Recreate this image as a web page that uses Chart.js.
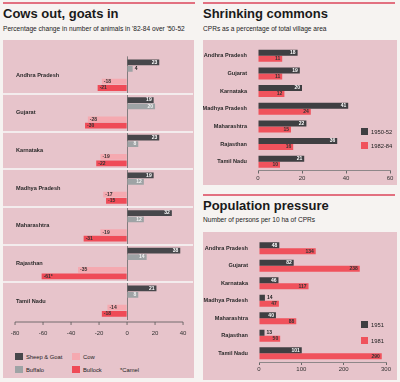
<!DOCTYPE html>
<html><head><meta charset="utf-8">
<script src="https://cdn.jsdelivr.net/npm/chart.js@4"></script>
<style>
html,body{margin:0;padding:0;background:#f6f3f1;width:400px;height:382px;overflow:hidden;font-family:"Liberation Sans",Arial,sans-serif;}
.rule{position:absolute;height:2px;background:#e27080;}
.title{position:absolute;font-weight:bold;font-size:13px;line-height:13px;color:#1a1a1a;white-space:nowrap;}
.sub{position:absolute;font-size:6.6px;line-height:7px;color:#222;white-space:nowrap;}
.box{position:absolute;background:#e7c4cb;}
canvas{position:absolute;}
.lg{position:absolute;font-size:5.8px;line-height:8px;color:#222;white-space:nowrap;}
.sw{position:absolute;width:8px;height:7px;}
</style></head><body>
<div class="rule" style="left:3px;top:2px;width:192px"></div>
<div class="rule" style="left:203px;top:2px;width:192px"></div>
<div class="rule" style="left:203px;top:194px;width:192px"></div>

<div class="title" style="left:3px;top:7px">Cows out, goats in</div>
<div class="sub" style="left:3px;top:24.5px">Percentage change in number of animals in '82-84 over '50-52</div>
<div class="title" style="left:203px;top:7px">Shrinking commons</div>
<div class="sub" style="left:203px;top:24.5px">CPRs as a percentage of total village area</div>
<div class="title" style="left:203px;top:199px">Population pressure</div>
<div class="sub" style="left:203px;top:215.5px">Number of persons per 10 ha of CPRs</div>

<div class="box" style="left:3px;top:40px;width:191px;height:338px"></div>
<div class="box" style="left:203px;top:40px;width:194px;height:145px"></div>
<div class="box" style="left:203px;top:232px;width:194px;height:148px"></div>

<canvas id="c1" width="197" height="305" style="left:0;top:40px"></canvas>
<canvas id="c2" width="194" height="145" style="left:203px;top:40px"></canvas>
<canvas id="c3" width="194" height="148" style="left:203px;top:232px"></canvas>

<div class="sw" style="left:15px;top:353px;background:#47474b"></div><div class="lg" style="left:26px;top:352.5px">Sheep &amp; Goat</div>
<div class="sw" style="left:72px;top:353px;background:#f5a9b0"></div><div class="lg" style="left:83px;top:352.5px">Cow</div>
<div class="sw" style="left:15px;top:366px;background:#9ea3a5"></div><div class="lg" style="left:26px;top:365.5px">Buffalo</div>
<div class="sw" style="left:72px;top:366px;background:#ef4b57"></div><div class="lg" style="left:83px;top:365.5px">Bullock</div>
<div class="lg" style="left:120px;top:365.5px">*Camel</div>

<div class="sw" style="left:361px;top:128px;width:7px;background:#3f3f42"></div><div class="lg" style="left:371px;top:128px">1950-52</div>
<div class="sw" style="left:361px;top:142px;width:7px;background:#f0525c"></div><div class="lg" style="left:371px;top:142px">1982-84</div>
<div class="sw" style="left:361px;top:321px;width:7px;background:#3f3f42"></div><div class="lg" style="left:371px;top:320.5px">1951</div>
<div class="sw" style="left:361px;top:337px;width:7px;background:#f0525c"></div><div class="lg" style="left:371px;top:336.5px">1981</div>

<script>
const states = ['Andhra Pradesh','Gujarat','Karnataka','Madhya Pradesh','Maharashtra','Rajasthan','Tamil Nadu'];
// Cows out, goats in (% change '82-84 over '50-52)
const sheepGoat = [23, 19, 23, 19, 32, 38, 21];
const buffalo   = [4, 20, 8, 12, 12, 14, 8];
const cow       = [-18, -28, -19, -17, -19, -35, -14];
const bullock   = [-21, -30, -22, -15, -31, -61, -18];
const bullockNote = ['', '', '', '', '', '*', ''];
const changeTicks = [-80, -60, -40, -20, 0, 20, 40];
// Shrinking commons (CPRs as % of village area)
const cpr5052 = [18, 19, 20, 41, 22, 36, 21];
const cpr8284 = [11, 11, 12, 24, 15, 16, 10];
const cprTicks = [0, 20, 40, 60];
// Population pressure (persons per 10 ha of CPRs)
const pop1951 = [48, 82, 46, 14, 40, 13, 101];
const pop1981 = [134, 238, 117, 47, 88, 50, 290];
const popTicks = [0, 100, 200, 300];

const F = '"Liberation Sans", Arial, sans-serif';
const DARK = '#3f3f42', RED = '#f0525c';

const barLabels = {
  id: 'barLabels',
  afterDatasetsDraw(chart) {
    const ctx = chart.ctx;
    ctx.save();
    ctx.font = 'bold 5px ' + F;
    ctx.textBaseline = 'middle';
    chart.data.datasets.forEach((ds, di) => {
      if (!ds.labelColor) return;
      const meta = chart.getDatasetMeta(di);
      meta.data.forEach((bar, i) => {
        const v = ds.data[i];
        if (v == null) return;
        const txt = String(v) + (ds.notes ? ds.notes[i] : '');
        const len = Math.abs(bar.x - bar.base);
        const w = ctx.measureText(txt).width;
        const pos = v >= 0;
        if (len < w + 4) {
          ctx.fillStyle = '#222';
          ctx.textAlign = pos ? 'left' : 'right';
          ctx.fillText(txt, bar.x + (pos ? 2 : -2), bar.y);
        } else {
          ctx.fillStyle = ds.labelColor;
          ctx.textAlign = pos ? 'right' : 'left';
          ctx.fillText(txt, bar.x + (pos ? -2 : 2), bar.y);
        }
      });
    });
    ctx.restore();
  }
};

const leftAxisLine = {
  id: 'leftAxisLine',
  afterDraw(chart) {
    const x = chart.scales.x, ctx = chart.ctx;
    const y = chart.chartArea.bottom + 2;
    ctx.save();
    ctx.strokeStyle = '#555'; ctx.lineWidth = 0.8;
    ctx.beginPath();
    ctx.moveTo(x.getPixelForValue(changeTicks[0]), y);
    ctx.lineTo(x.getPixelForValue(changeTicks[changeTicks.length - 1]), y);
    changeTicks.forEach(v => { const px = x.getPixelForValue(v); ctx.moveTo(px, y); ctx.lineTo(px, y + 3); });
    ctx.stroke();
    ctx.restore();
  }
};

new Chart(document.getElementById('c1'), {
  type: 'bar',
  data: {
    labels: states,
    datasets: [
      { label: 'Sheep & Goat', data: sheepGoat, backgroundColor: '#47474b', labelColor: '#fff' },
      { label: 'Buffalo', data: buffalo, backgroundColor: '#9ea3a5', labelColor: '#f4f4f4' },
      { label: '', data: states.map(() => null) },
      { label: 'Cow', data: cow, backgroundColor: '#f5a9b0', labelColor: '#333' },
      { label: 'Bullock', data: bullock, backgroundColor: '#ef4b57', labelColor: '#333', notes: bullockNote }
    ]
  },
  options: {
    indexAxis: 'y', responsive: false, animation: false,
    categoryPercentage: 0.85, barPercentage: 0.9,
    layout: { padding: { left: 3, right: 4, top: 7, bottom: 0 } },
    plugins: { legend: { display: false }, tooltip: { enabled: false } },
    scales: {
      x: {
        min: -88.6, max: 47.1,
        afterBuildTicks: s => { s.ticks = changeTicks.map(v => ({ value: v })); },
        afterFit: s => { s.height = 25; },
        grid: { drawTicks: false, color: c => (c.tick && c.tick.value === 0) ? '#6a6a6a' : 'transparent', lineWidth: 0.8 },
        border: { display: false },
        ticks: { padding: 10, font: { size: 6, family: F }, color: '#333' }
      },
      y: {
        afterFit: s => { s.width = 0; },
        border: { display: false },
        grid: { offset: true, drawTicks: false, color: c => (c.type === 'tick' && c.index > 0) ? '#f3eced' : 'transparent', lineWidth: 2 },
        ticks: { mirror: true, padding: 13, font: { size: 5.6, weight: 'bold', family: F }, color: '#2a2a2a' }
      }
    }
  },
  plugins: [barLabels, leftAxisLine]
});

function pairChart(id, a, b, la, lb, tickVals, yWidth, xHeight, pad) {
  return new Chart(document.getElementById(id), {
    type: 'bar',
    data: {
      labels: states,
      datasets: [
        { label: la, data: a, backgroundColor: DARK, labelColor: '#fff' },
        { label: lb, data: b, backgroundColor: RED, labelColor: '#333' }
      ]
    },
    options: {
      indexAxis: 'y', responsive: false, animation: false,
      categoryPercentage: 0.68, barPercentage: 1.0,
      layout: { padding: pad },
      plugins: { legend: { display: false }, tooltip: { enabled: false } },
      scales: {
        x: {
          min: tickVals[0], max: tickVals[tickVals.length - 1],
          afterBuildTicks: s => { s.ticks = tickVals.map(v => ({ value: v })); },
          afterFit: s => { s.height = xHeight; },
          grid: { drawOnChartArea: false, tickLength: 3, tickColor: '#666' },
          border: { display: true, color: '#777', width: 0.8 },
          ticks: { padding: 1, font: { size: 6, family: F }, color: '#333' }
        },
        y: {
          afterFit: s => { s.width = yWidth; },
          border: { display: false },
          grid: { display: false },
          ticks: { padding: 3, font: { size: 5.6, weight: 'bold', family: F }, color: '#2a2a2a' }
        }
      }
    },
    plugins: [barLabels]
  });
}

pairChart('c2', cpr5052, cpr8284, '1950-52', '1982-84', cprTicks, 55, 14.5, { left: 0, right: 7, top: 7, bottom: 0 });
pairChart('c3', pop1951, pop1981, '1951', '1981', popTicks, 56, 18, { left: 0, right: 11, top: 7.5, bottom: 0 });
</script>
</body></html>
